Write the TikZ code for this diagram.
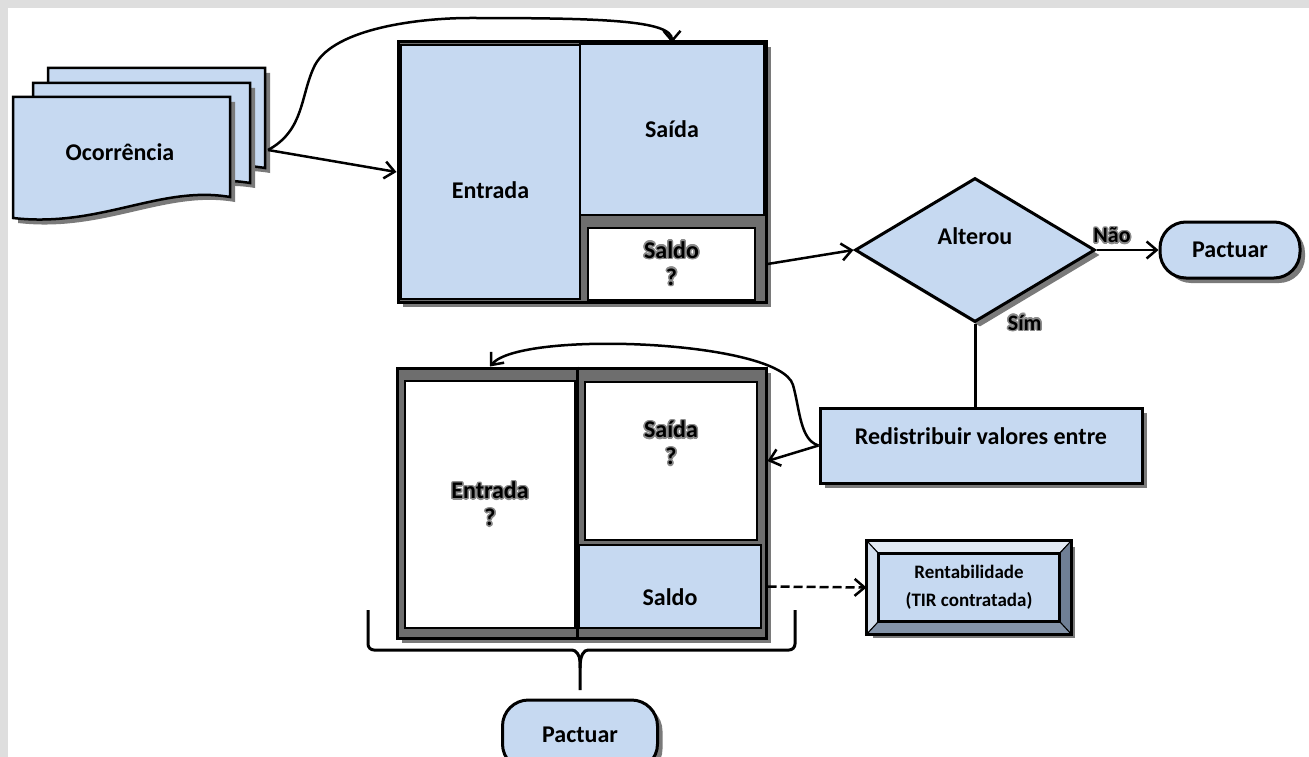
\documentclass[tikz,border=0pt]{standalone}
\usepackage{fontspec}
\setmainfont{Carlito}
\usepackage[copies]{contour}
\contourlength{1.5pt}
\usetikzlibrary{shapes.geometric}
\usetikzlibrary{shadows, arrows.meta}

\definecolor{boxblue}{HTML}{C6D9F1}
\definecolor{bandgray}{HTML}{6E6E6E}
\definecolor{shadowgray}{HTML}{7A7A7A}
\definecolor{halogray}{HTML}{8A8A8A}
\definecolor{bevellight}{HTML}{E2EAF4}
\definecolor{bevelside}{HTML}{D3DEEC}
\definecolor{beveldark}{HTML}{6F7F95}
\definecolor{bevelbottom}{HTML}{8393A8}

\tikzset{
  dropsh/.style={drop shadow={shadow xshift=5pt, shadow yshift=-5pt, fill=shadowgray, opacity=1}},
  outerbox/.style={draw=black, line width=3pt, fill=bandgray, inner sep=0pt, dropsh},
  bluecell/.style={draw=black, line width=2.5pt, fill=boxblue, inner sep=0pt},
  whitecell/.style={draw=black, line width=2.5pt, fill=white, inner sep=0pt},
  flowbox/.style={draw=black, line width=3pt, fill=boxblue, inner sep=0pt, dropsh},
  pill/.style={flowbox, rounded corners=26pt},
  docpage/.style={draw=black, line width=2.5pt, fill=boxblue, dropsh},
  arr/.style={line width=2.5pt, -{Straight Barb[length=10pt, width=17pt]}},
  link/.style={line width=3pt},
  bracket/.style={line width=3pt, rounded corners=6pt},
  small/.style={font=\fontsize{19}{28}\selectfont\bfseries},
  tag/.style={font=\fontsize{22}{26}\selectfont\bfseries},
}

\begin{document}
\begin{tikzpicture}[x=1pt, y=-1pt, font=\fontsize{24}{27}\selectfont\bfseries]
  \useasboundingbox (0,0) rectangle (1309,757);
  \clip (0,0) rectangle (1309,757);
  \fill[black!13] (0,0) rectangle (1309,757);
  \fill[white] (8,8) rectangle (1309,757);

  % Ocorrencia
  \foreach \dx/\dy in {35/-29, 20/-14, 0/0}
    \draw[docpage, shift={(\dx,\dy)}] (13,97) -- (230,97) -- (230,197)
      .. controls (160,185) and (100,228) .. (13,218) -- cycle;
  \node (ocor) at (120,152) {Ocorrência};
  \coordinate (ocor-e) at (268,150);

  % upper block
  \node[outerbox, minimum width=368, minimum height=260] (box1) at (582,172) {};
  \node[bluecell, minimum width=179, minimum height=254, text height=52pt, text depth=0pt] (ent1) at (490.5,172) {Entrada};
  \node[bluecell, minimum width=184, minimum height=171] (sai1) at (672,129.5) {Saída};
  \node[whitecell, minimum width=167, minimum height=72, align=center] (sal1) at (671.5,264)
    {\contour{halogray}{Saldo}\\\contour{halogray}{?}};

  % decision
  \node[diamond, flowbox, minimum width=240, minimum height=144, text depth=27pt] (alt) at (975,250) {Alterou};
  \node[pill, minimum width=140, minimum height=56] (pac1) at (1230,250) {Pactuar};
  \node[flowbox, minimum width=322, minimum height=75, text depth=18pt] (redis) at (981,445.5) {Redistribuir valores entre};

  % lower block
  \node[outerbox, minimum width=369, minimum height=270] (box2) at (581.5,503) {};
  \node[whitecell, minimum width=170, minimum height=247, align=center] (ent2) at (490,504.5)
    {\contour{halogray}{Entrada}\\\contour{halogray}{?}};
  \node[whitecell, minimum width=172, minimum height=158, align=center] (sai2) at (671,461)
    {\contour{halogray}{Saída}\\\contour{halogray}{?}\\[9pt]~};
  \node[bluecell, minimum width=182, minimum height=83, text height=38pt, text depth=0pt] (sal2) at (670,586.5) {Saldo};
  \draw[link] (box2.north -| sal2.west) -- (box2.south -| sal2.west);

  % rentabilidade
  \node[flowbox, minimum width=202, minimum height=91, small, align=center] (rent) at (969,587.5)
    {Rentabilidade\\(TIR contratada)};
  \filldraw[fill=bevellight, line width=1pt] (rent.north west) -- (rent.north east)
    -- ([shift={(-12,13)}]rent.north east) -- ([shift={(12,13)}]rent.north west) -- cycle;
  \filldraw[fill=bevelside, line width=1pt] (rent.north west) -- ([shift={(12,13)}]rent.north west)
    -- ([shift={(12,-13)}]rent.south west) -- (rent.south west) -- cycle;
  \filldraw[fill=beveldark, line width=1pt] (rent.north east) -- ([shift={(-12,13)}]rent.north east)
    -- ([shift={(-12,-13)}]rent.south east) -- (rent.south east) -- cycle;
  \filldraw[fill=bevelbottom, line width=1pt] (rent.south west) -- ([shift={(12,-13)}]rent.south west)
    -- ([shift={(-12,-13)}]rent.south east) -- (rent.south east) -- cycle;
  \draw[line width=2.5pt] ([shift={(12,13)}]rent.north west) rectangle ([shift={(-12,-13)}]rent.south east);
  \draw[line width=3pt] (rent.north west) rectangle (rent.south east);

  % brace and bottom terminal
  \draw[bracket] (368,610) -- (368,650) -- (566,650) .. controls (576,650) and (580,655) .. (580,668) -- (580,690);
  \draw[bracket] (795,610) -- (795,650) -- (594,650) .. controls (584,650) and (580,655) .. (580,668);
  \node[pill, minimum width=155, minimum height=70] (pac2) at (580,735) {Pactuar};

  % connectors
  \draw[arr] (ocor-e) -- (box1.west);
  \draw[arr] (ocor-e) .. controls (305,130) and (300,95) .. (315,65)
    .. controls (335,28) and (420,18) .. (470,18)
    .. controls (600,18) and (672,20) .. (sai1.north);
  \draw[arr] (sal1.east -| box1.east) -- (alt.west);
  \draw[arr] (alt.east) -- (pac1.west) node[tag, pos=0.25, above=1pt] {\contour{halogray}{Não}};
  \draw[link] (alt.south) -- (alt.south |- redis.north) node[tag, pos=0, anchor=west, xshift=28pt] {\contour{halogray}{Sím}};
  \draw[arr] (redis.west) -- (sai2.east -| box2.east);
  \draw[arr] (redis.west) .. controls (800,440) and (800,410) .. (793,385)
    .. controls (780,340) and (520,330) .. (box2.north -| ent2.north);
  \draw[arr, dash pattern=on 9pt off 4pt] (sal2.east -| box2.east) -- (rent.west);
\end{tikzpicture}
\end{document}
